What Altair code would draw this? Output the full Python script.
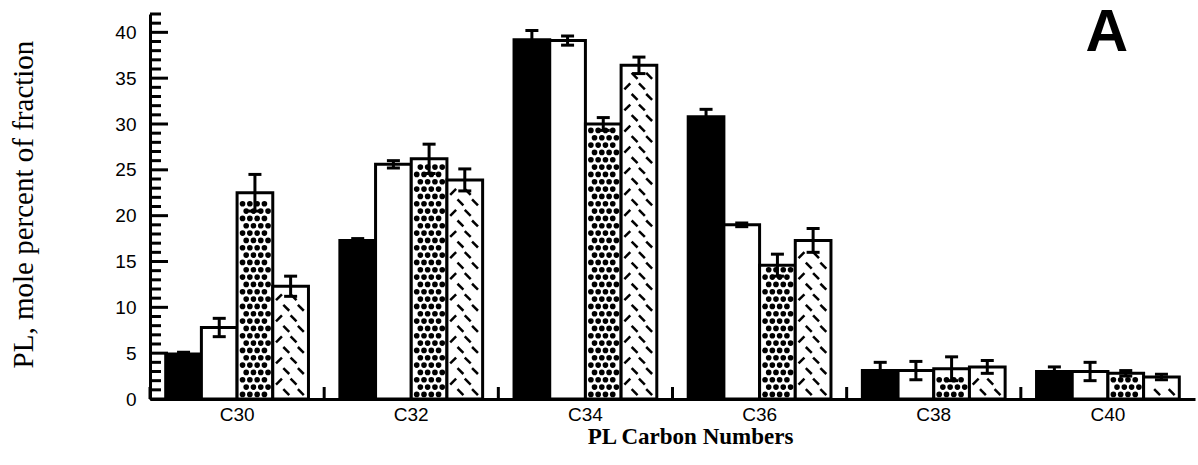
import altair as alt
import pandas as pd

# ---------------- data ----------------
categories = ["C30", "C32", "C34", "C36", "C38", "C40"]
series = ["solid", "open", "dotted", "hatched"]
series_fill = ["black", "white", "white", "white"]

solid_vals = [4.9, 17.3, 39.2, 30.8, 3.1, 3.0]
solid_err = [0.2, 0.2, 1.0, 0.8, 0.9, 0.5]
open_vals = [7.8, 25.6, 39.1, 19.0, 3.1, 3.0]
open_err = [1.0, 0.4, 0.5, 0.2, 1.0, 1.0]
dotted_vals = [22.5, 26.2, 30.0, 14.6, 3.3, 2.8]
dotted_err = [2.0, 1.6, 0.7, 1.2, 1.3, 0.3]
hatched_vals = [12.3, 23.9, 36.4, 17.3, 3.5, 2.4]
hatched_err = [1.1, 1.2, 0.9, 1.3, 0.7, 0.3]

y_label_values = [0, 5, 10, 15, 20, 25, 30, 35, 40]
y_tick_values = list(range(0, 43))

rows = []
for s, vals, errs in [
    ("solid", solid_vals, solid_err),
    ("open", open_vals, open_err),
    ("dotted", dotted_vals, dotted_err),
    ("hatched", hatched_vals, hatched_err),
]:
    for c, v, e in zip(categories, vals, errs):
        rows.append({"cat": c, "series": s, "value": v, "lo": v - e, "hi": v + e})
df = pd.DataFrame(rows)
tick_df = pd.DataFrame({"t": y_tick_values})
cat_df = pd.DataFrame({"cat": categories})

W, H = 1045, 385
SUB = 10
PAD_OUT = 0.44
# sub-band keys for texture placement: 4 spacer keys at each side + 10 per series
sub_domain = (
    [f"padL{i}" for i in range(4)]
    + [f"{s}_{i}" for s in series for i in range(SUB)]
    + [f"padR{i}" for i in range(4)]
)

x_scale = alt.Scale(domain=categories, paddingInner=0, paddingOuter=0)
y_scale = alt.Scale(domain=[0, 42], nice=False, zero=True)
off_scale = alt.Scale(domain=series, paddingInner=0, paddingOuter=PAD_OUT)
sub_scale = alt.Scale(domain=sub_domain, paddingInner=0, paddingOuter=PAD_OUT * SUB - 4)

base = alt.Chart(df)

# main bars with the labelled axes
bars = base.mark_bar(stroke="black", strokeWidth=3, strokeJoin="miter").encode(
    x=alt.X(
        "cat:N",
        scale=x_scale,
        axis=alt.Axis(
            orient="bottom",
            ticks=False,
            labelAngle=0,
            labelFont="Liberation Sans",
            labelFontSize=19,
            labelColor="black",
            labelPadding=6,
            labelBaseline="top",
            domainColor="black",
            domainWidth=3,
            zindex=2,
            title="PL Carbon Numbers",
            titleFont="Liberation Serif",
            titleFontSize=23,
            titleFontWeight="bold",
            titleColor="black",
            titleX=540,
            titleY=44,
            titleBaseline="alphabetic",
            titleAlign="center",
        ),
    ),
    xOffset=alt.XOffset("series:N", scale=off_scale),
    y=alt.Y(
        "value:Q",
        scale=y_scale,
        axis=alt.Axis(
            orient="left",
            values=y_label_values,
            ticks=False,
            grid=False,
            labelFont="Liberation Sans",
            labelFontSize=19,
            labelColor="black",
            labelPadding=14,
            domainColor="black",
            domainWidth=3,
            zindex=2,
            title="PL, mole percent of fraction",
            titleFont="Liberation Serif",
            titleFontSize=29,
            titleFontWeight="normal",
            titleColor="black",
            titleAngle=270,
            titleX=-127,
            titleY=190,
            titleAlign="center",
            titleBaseline="middle",
        ),
    ),
    fill=alt.Fill("series:N", scale=alt.Scale(domain=series, range=series_fill), legend=None),
)

# dotted texture (decoration drawn inside the dotted bars)
dots = (
    base.transform_filter(alt.datum.series == "dotted")
    .transform_calculate(ys="sequence(0.5, datum.value - 0.45, 0.8)")
    .transform_flatten(["ys"])
    .transform_calculate(
        subs="round((datum.ys - 0.5) / 0.8) % 2 == 0 ? [1, 3, 5, 7] : [2, 4, 6, 8]",
    )
    .transform_flatten(["subs"])
    .transform_calculate(sub="datum.series + '_' + datum.subs")
    .mark_point(filled=True, shape="circle", size=32, color="black", opacity=1)
    .encode(
        x=alt.X("cat:N", scale=x_scale, axis=None),
        xOffset=alt.XOffset("sub:N", scale=sub_scale),
        y=alt.Y("ys:Q", scale=y_scale, axis=None),
    )
)

# hatched texture (short diagonal dashes inside the hatched bars)
hatches = (
    base.transform_filter(alt.datum.series == "hatched")
    .transform_calculate(ys="sequence(0.75, datum.value - 0.6, 1.15)")
    .transform_flatten(["ys"])
    .transform_calculate(
        subs="round((datum.ys - 0.75) / 1.15) % 2 == 0 ? [3, 7] : [1, 5]",
    )
    .transform_flatten(["subs"])
    .transform_calculate(
        sub="datum.series + '_' + datum.subs",
        ang="datum.subs == 1 ? 135 : 45",
    )
    .mark_point(filled=False, shape="stroke", size=70, color="black", strokeWidth=2.5, opacity=1)
    .encode(
        x=alt.X("cat:N", scale=x_scale, axis=None),
        xOffset=alt.XOffset("sub:N", scale=sub_scale),
        y=alt.Y("ys:Q", scale=y_scale, axis=None),
        angle=alt.Angle("ang:Q", scale=None),
    )
)

# error bar stems and caps
stems = base.mark_rule(color="black", strokeWidth=3).encode(
    x=alt.X("cat:N", scale=x_scale, axis=None),
    xOffset=alt.XOffset("series:N", scale=off_scale),
    y=alt.Y("lo:Q", scale=y_scale, axis=None),
    y2="hi:Q",
)

caps = (
    base.transform_fold(["lo", "hi"], as_=["end", "ev"])
    .mark_tick(color="black", size=13, thickness=3, opacity=1)
    .encode(
        x=alt.X("cat:N", scale=x_scale, axis=None),
        xOffset=alt.XOffset("series:N", scale=off_scale),
        y=alt.Y("ev:Q", scale=y_scale, axis=None),
    )
)

# inward-pointing y ticks (major every 5, minor every 1)
ticks_major = (
    alt.Chart(tick_df)
    .transform_filter("datum.t % 5 === 0")
    .mark_rule(color="black", strokeWidth=3)
    .encode(y=alt.Y("t:Q", scale=y_scale, axis=None), x=alt.value(0), x2=alt.value(18))
)
ticks_minor = (
    alt.Chart(tick_df)
    .transform_filter("datum.t % 5 !== 0")
    .mark_rule(color="black", strokeWidth=3)
    .encode(y=alt.Y("t:Q", scale=y_scale, axis=None), x=alt.value(0), x2=alt.value(11))
)

# inward-pointing x ticks at the category boundaries
ticks_x = (
    alt.Chart(cat_df)
    .mark_rule(color="black", strokeWidth=3)
    .encode(
        x=alt.X("cat:N", scale=x_scale, axis=None, bandPosition=0),
        y=alt.value(H),
        y2=alt.value(H - 12),
    )
)

chart = (
    alt.layer(bars, dots, hatches, stems, caps, ticks_major, ticks_minor, ticks_x)
    .resolve_scale(xOffset="independent")
    .resolve_axis(x="independent", y="independent")
    .properties(
        width=W,
        height=H,
        background="white",
        autosize=alt.AutoSizeParams(type="none"),
        padding={"left": 150, "top": 14, "right": 3, "bottom": 66},
        title=alt.TitleParams(
            text="A",
            orient="top",
            anchor="end",
            frame="group",
            font="Liberation Sans",
            fontSize=59,
            fontWeight="bold",
            color="black",
            baseline="alphabetic",
            offset=0,
            dx=-67,
            dy=97,
        ),
    )
    .configure_view(stroke=None)
)

chart.save("out.html", embed_options={"renderer": "svg", "actions": False})
